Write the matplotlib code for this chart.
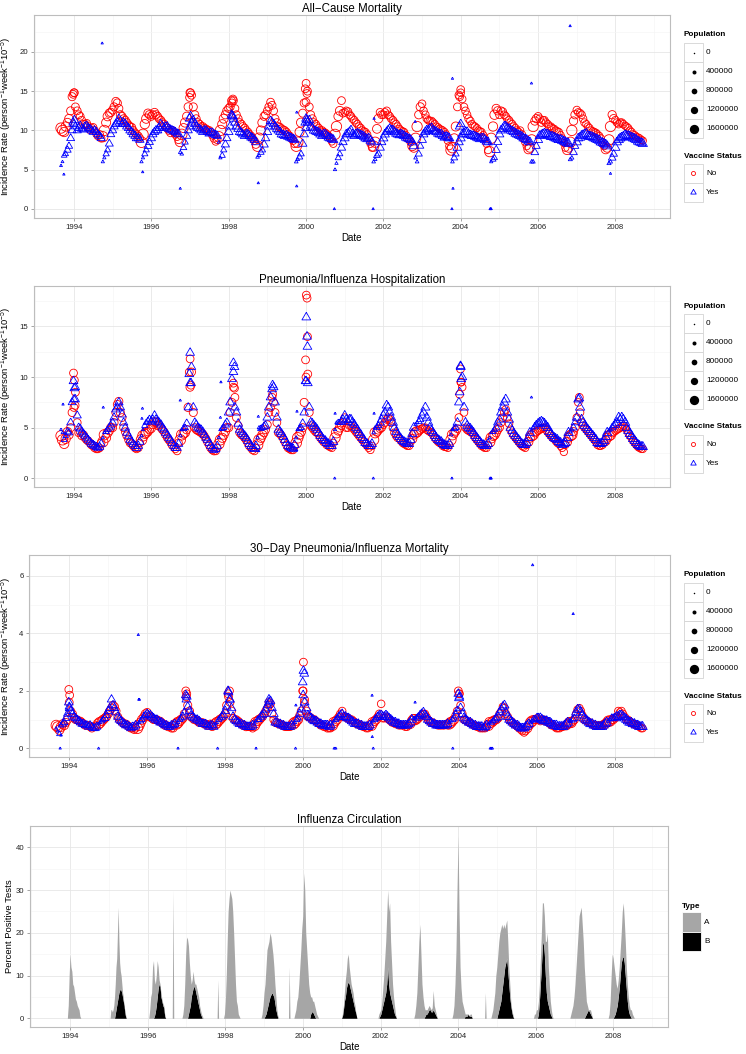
import numpy as np
import pandas as pd
import matplotlib
matplotlib.use("Agg")
import matplotlib.pyplot as plt
import matplotlib.dates as mdates
from matplotlib.patches import Rectangle

plt.rcParams["font.family"] = ["Liberation Sans", "DejaVu Sans"]
plt.rcParams["mathtext.fontset"] = "custom"
plt.rcParams["mathtext.rm"] = "Liberation Sans"
plt.rcParams["mathtext.default"] = "regular"

# ---------------- data: two readings a month, Sep 1993 .. Sep 2008 ----------------
mid_dates = pd.date_range("1993-09-01", periods=181, freq="MS") + pd.Timedelta(days=14)
first_dates = pd.date_range("1993-09-01", periods=181, freq="MS")

# all-cause mortality (mid-month / first of month), unvaccinated and vaccinated
ac_no = [
    10.0, 10.5, 11.5, 14.3,
    13.0, 12.0, 11.3, 10.8, 10.5, 10.3, 10.0, 9.3, 9.0, 10.0, 11.8, 12.3,
    13.0, 13.5, 12.0, 11.5, 11.0, 10.5, 10.0, 9.5, 9.0, 9.5, 11.5, 12.0,
    12.0, 12.0, 11.5, 11.0, 10.5, 10.0, 10.0, 9.5, 8.8, 9.5, 11.0, 13.0,
    14.5, 12.0, 11.0, 10.5, 10.3, 10.0, 9.8, 9.0, 8.8, 10.0, 11.5, 12.5,
    13.0, 13.8, 12.0, 11.0, 10.5, 10.0, 9.5, 9.0, 8.2, 9.0, 11.0, 12.0,
    13.0, 13.2, 11.5, 10.5, 10.2, 10.0, 9.5, 9.0, 8.3, 8.5, 11.0, 13.5,
    15.0, 12.0, 11.0, 10.5, 10.0, 9.8, 9.5, 9.0, 8.3, 10.5, 12.5, 12.2,
    12.5, 12.0, 11.5, 11.0, 10.5, 10.0, 9.8, 9.0, 7.8, 8.5, 11.5, 12.0,
    12.3, 12.0, 11.5, 11.0, 10.5, 10.0, 9.8, 9.0, 8.5, 7.8, 10.5, 13.0,
    12.5, 11.5, 11.2, 11.0, 10.5, 10.2, 10.0, 9.5, 8.0, 7.8, 10.5, 14.5,
    14.0, 12.5, 11.5, 10.8, 10.5, 10.0, 9.8, 9.0, 7.5, 9.0, 12.0, 12.5,
    12.5, 12.0, 11.5, 11.0, 10.5, 10.0, 10.0, 9.0, 8.0, 7.8, 10.5, 11.5,
    11.5, 11.3, 11.0, 10.5, 10.3, 10.0, 9.8, 9.0, 7.8, 7.8, 10.0, 12.0,
    12.3, 12.0, 11.0, 10.5, 10.0, 9.8, 9.5, 9.0, 8.0, 7.8, 10.5, 11.5,
    11.0, 11.0, 10.8, 10.5, 10.0, 9.5, 9.2, 9.0, 8.7,
]
ac_no_b = [
    10.3, 9.8, 11.0, 12.5,
    14.8, 12.5, 11.8, 10.8, 10.9, 10.1, 10.4, 9.6, 9.5, 9.2, 11.0, 12.2,
    12.6, 13.7, 12.8, 11.8, 11.3, 10.7, 10.4, 9.7, 9.3, 8.5, 10.8, 12.2,
    11.8, 12.3, 11.8, 11.3, 10.8, 10.3, 9.7, 9.8, 9.2, 8.6, 10.3, 11.8,
    14.8, 13.0, 11.5, 10.8, 10.5, 10.2, 10.0, 9.4, 8.6, 9.2, 10.8, 12.0,
    12.8, 13.5, 12.8, 11.5, 10.8, 10.3, 9.8, 9.3, 8.7, 8.0, 10.0, 11.8,
    12.5, 13.6, 12.5, 11.0, 10.4, 10.1, 9.8, 9.3, 8.7, 8.0, 9.8, 12.2,
    13.6, 13.0, 11.5, 10.8, 10.3, 10.0, 9.7, 9.3, 8.6, 9.5, 11.8, 13.8,
    12.3, 12.4, 11.8, 11.3, 10.8, 10.3, 9.9, 9.5, 8.3, 8.0, 10.2, 12.3,
    12.0, 12.5, 11.8, 11.3, 10.8, 10.2, 9.9, 9.4, 8.8, 8.0, 9.0, 12.0,
    13.4, 12.0, 11.3, 11.2, 10.8, 10.4, 10.1, 9.8, 8.7, 7.5, 9.0, 13.0,
    14.8, 13.0, 12.0, 11.2, 10.6, 10.3, 9.9, 9.4, 8.3, 7.3, 10.5, 12.8,
    12.0, 12.4, 11.8, 11.3, 10.8, 10.3, 9.8, 9.5, 8.5, 7.6, 8.8, 11.2,
    11.8, 11.0, 11.3, 10.8, 10.5, 10.2, 9.9, 9.4, 8.4, 7.5, 8.5, 11.2,
    12.6, 12.2, 11.5, 10.8, 10.3, 9.9, 9.7, 9.3, 8.5, 7.6, 8.8, 12.0,
    11.3, 10.8, 11.0, 10.6, 10.3, 9.8, 9.4, 9.1, 8.8,
]
ac_yes = [
    6.0, 7.0, 8.0, 10.0,
    10.5, 10.3, 10.2, 10.5, 10.3, 10.0, 10.0, 9.5, 9.0, 6.5, 7.5, 9.5,
    10.5, 11.0, 11.2, 11.0, 10.5, 10.0, 9.5, 9.0, 8.8, 6.5, 7.5, 8.5,
    9.5, 10.0, 10.3, 10.5, 10.5, 10.2, 10.0, 9.8, 9.5, 7.0, 8.5, 10.0,
    11.0, 10.8, 10.3, 10.0, 10.0, 9.8, 9.7, 9.5, 9.3, 6.5, 7.5, 9.0,
    10.5, 11.5, 10.5, 9.8, 9.5, 9.5, 9.3, 9.0, 8.5, 6.8, 7.5, 9.0,
    10.5, 11.0, 10.5, 10.0, 9.5, 9.3, 9.2, 9.0, 8.8, 6.3, 7.0, 9.5,
    11.0, 10.5, 10.0, 9.8, 9.5, 9.5, 9.3, 9.0, 8.8, 5.8, 7.0, 8.5,
    9.5, 9.8, 9.5, 9.5, 9.5, 9.3, 9.0, 9.0, 8.5, 6.3, 7.0, 8.5,
    9.5, 10.0, 10.0, 9.8, 9.5, 9.5, 9.3, 9.0, 8.8, 8.0, 6.0, 8.0,
    9.5, 10.0, 10.2, 10.0, 9.8, 9.5, 9.3, 9.2, 9.0, 6.0, 7.0, 8.5,
    9.5, 9.8, 9.5, 9.3, 9.2, 9.0, 9.0, 8.8, 8.5, 6.0, 6.5, 8.5,
    10.0, 10.5, 10.3, 10.0, 9.8, 9.5, 9.3, 9.0, 8.8, 8.5, 6.0, 8.0,
    9.3, 9.5, 9.5, 9.3, 9.2, 9.0, 8.8, 8.7, 8.5, 8.3, 6.5, 8.0,
    9.0, 9.3, 9.5, 9.3, 9.2, 9.0, 8.8, 8.5, 8.3, 8.0, 6.0, 7.0,
    8.5, 9.0, 9.2, 9.3, 9.2, 9.0, 8.8, 8.5, 8.3,
]
ac_yes_b = [
    5.5, 6.8, 7.5, 9.0,
    10.8, 10.0, 10.6, 10.1, 10.6, 10.2, 9.8, 9.8, 9.3, 6.0, 7.0, 8.3,
    10.0, 10.8, 11.5, 10.8, 10.8, 10.3, 9.8, 9.3, 9.0, 6.0, 7.0, 8.0,
    9.0, 9.8, 10.0, 10.8, 10.3, 10.5, 10.1, 9.9, 9.6, 7.2, 7.8, 9.3,
    10.5, 11.3, 10.5, 10.2, 9.8, 10.0, 9.6, 9.7, 9.4, 8.5, 6.8, 8.2,
    9.8, 11.8, 11.0, 10.2, 9.7, 9.3, 9.5, 9.1, 8.8, 6.6, 7.2, 8.2,
    9.8, 11.2, 10.8, 10.2, 9.8, 9.4, 9.4, 9.1, 8.9, 6.0, 6.6, 8.3,
    10.3, 11.3, 10.3, 9.9, 9.7, 9.3, 9.5, 9.1, 8.9, 5.0, 6.5, 7.8,
    9.0, 9.6, 10.0, 9.3, 9.6, 9.4, 9.2, 8.9, 8.7, 6.0, 6.8, 7.8,
    9.0, 9.8, 10.2, 10.0, 9.6, 9.4, 9.4, 9.1, 8.9, 8.5, 6.5, 7.0,
    8.8, 9.8, 10.0, 10.3, 9.9, 9.6, 9.5, 9.1, 9.1, 8.8, 6.5, 7.8,
    9.0, 9.6, 9.8, 9.4, 9.3, 9.1, 8.9, 9.0, 8.6, 8.3, 6.3, 7.5,
    9.5, 10.2, 10.5, 10.2, 9.9, 9.6, 9.4, 9.2, 8.9, 8.6, 6.0, 7.2,
    8.8, 9.4, 9.6, 9.5, 9.2, 9.1, 8.9, 8.8, 8.6, 8.4, 6.3, 7.2,
    8.5, 9.1, 9.4, 9.6, 9.2, 9.1, 8.9, 8.7, 8.4, 8.2, 5.8, 6.5,
    7.8, 8.8, 9.1, 9.4, 9.3, 9.1, 8.9, 8.6, 8.4,
]

# pneumonia/influenza hospitalization
pi_no = [
    3.8, 3.9, 4.3, 6.5,
    8.5, 4.5, 4.2, 4.0, 3.7, 3.3, 3.0, 2.9, 3.5, 4.3, 4.5, 5.0,
    5.5, 7.3, 6.5, 5.0, 4.2, 3.5, 3.2, 2.9, 3.5, 4.2, 4.5, 4.8,
    5.3, 5.5, 5.3, 4.8, 4.3, 3.8, 3.3, 2.9, 3.5, 4.3, 4.5, 7.0,
    10.5, 5.0, 4.7, 4.5, 4.2, 3.6, 3.0, 2.7, 3.0, 3.8, 4.3, 5.0,
    6.5, 9.0, 6.0, 4.5, 4.2, 3.8, 3.2, 2.8, 3.0, 3.8, 4.3, 4.8,
    6.5, 8.0, 6.5, 4.5, 4.2, 3.6, 3.0, 2.8, 3.2, 4.0, 4.6, 7.5,
    14.0, 5.2, 4.8, 4.5, 4.0, 3.6, 3.3, 3.1, 3.5, 4.5, 5.0, 5.5,
    5.0, 5.2, 5.0, 4.6, 4.2, 3.8, 3.4, 3.0, 3.2, 4.5, 4.8, 5.0,
    5.5, 6.0, 5.5, 4.5, 4.0, 3.7, 3.4, 3.2, 3.6, 4.3, 4.6, 4.8,
    5.0, 4.8, 4.6, 4.3, 3.8, 3.5, 3.2, 3.1, 3.3, 4.3, 4.7, 6.0,
    9.0, 5.0, 4.7, 4.5, 4.0, 3.6, 3.2, 3.0, 3.3, 4.0, 4.3, 4.8,
    5.5, 6.5, 6.0, 4.8, 4.2, 3.8, 3.4, 3.1, 3.3, 4.0, 4.3, 4.6,
    4.8, 5.0, 4.8, 4.4, 4.0, 3.7, 3.4, 3.0, 3.3, 4.0, 4.3, 5.0,
    7.5, 5.5, 5.0, 4.6, 4.2, 3.8, 3.3, 3.2, 3.5, 4.0, 4.3, 4.6,
    4.8, 5.0, 5.2, 4.8, 4.2, 3.7, 3.3, 3.0, 2.9,
]
pi_no_b = [
    4.2, 3.4, 4.6, 5.0,
    7.0, 5.5, 4.6, 4.3, 3.8, 3.5, 3.2, 2.9, 3.0, 3.6, 4.0, 4.7,
    5.0, 6.5, 7.6, 6.0, 4.6, 3.8, 3.4, 3.0, 3.0, 3.8, 4.4, 4.6,
    4.9, 5.6, 5.2, 5.0, 4.6, 4.0, 3.6, 3.1, 2.7, 3.8, 4.4, 4.8,
    9.0, 6.5, 4.8, 4.6, 4.4, 3.9, 3.3, 2.8, 2.7, 3.4, 4.0, 4.6,
    5.0, 7.5, 8.0, 5.2, 4.3, 4.0, 3.5, 3.0, 2.7, 3.3, 4.0, 4.5,
    5.3, 7.0, 7.5, 5.5, 4.4, 3.9, 3.3, 2.9, 2.8, 3.5, 4.3, 5.0,
    10.0, 6.5, 5.0, 4.6, 4.3, 3.8, 3.5, 3.2, 3.0, 4.0, 4.7, 5.2,
    6.0, 5.0, 5.2, 4.8, 4.4, 4.0, 3.6, 3.2, 2.8, 3.8, 4.6, 4.9,
    5.3, 5.8, 5.8, 5.0, 4.2, 3.9, 3.5, 3.3, 3.2, 3.9, 4.5, 4.7,
    4.9, 5.0, 4.7, 4.5, 4.0, 3.6, 3.4, 3.1, 3.0, 3.8, 4.5, 4.9,
    9.5, 6.5, 4.8, 4.6, 4.3, 3.8, 3.4, 3.1, 3.0, 3.6, 4.2, 4.5,
    5.0, 6.0, 6.8, 5.4, 4.5, 4.0, 3.6, 3.2, 3.0, 3.6, 4.2, 4.5,
    4.7, 4.9, 5.0, 4.6, 4.2, 3.9, 3.5, 3.2, 2.6, 3.6, 4.2, 4.6,
    6.0, 6.5, 5.2, 4.8, 4.4, 4.0, 3.6, 3.2, 3.3, 3.7, 4.2, 4.5,
    4.7, 4.9, 5.1, 5.0, 4.5, 4.0, 3.5, 3.1, 2.9,
]
pi_yes = [
    4.5, 4.2, 4.5, 7.5,
    9.0, 5.0, 4.6, 4.2, 3.8, 3.4, 3.2, 3.0, 3.4, 4.5, 4.8, 5.2,
    6.0, 7.0, 7.0, 5.5, 4.5, 3.8, 3.4, 3.0, 3.6, 4.8, 5.5, 5.8,
    5.8, 5.8, 5.5, 5.0, 4.5, 4.0, 3.5, 3.0, 3.4, 4.8, 5.0, 7.0,
    11.0, 5.5, 5.0, 4.8, 4.3, 3.8, 3.2, 2.8, 3.2, 4.8, 5.0, 5.5,
    7.5, 10.5, 6.5, 4.8, 4.4, 4.0, 3.4, 3.0, 3.2, 5.0, 5.0, 5.2,
    7.0, 8.8, 7.5, 4.8, 4.4, 3.8, 3.2, 3.0, 3.3, 4.8, 5.0, 6.5,
    13.0, 5.5, 5.2, 4.8, 4.2, 3.8, 3.5, 3.2, 3.6, 5.5, 5.5, 5.8,
    5.8, 5.8, 5.5, 5.0, 4.5, 4.0, 3.5, 3.2, 3.4, 5.0, 5.2, 5.8,
    6.5, 7.0, 6.0, 5.0, 4.3, 3.9, 3.6, 3.4, 3.8, 5.0, 5.5, 5.8,
    6.5, 6.0, 5.0, 4.5, 4.0, 3.7, 3.4, 3.2, 3.4, 4.8, 5.0, 7.5,
    10.0, 5.5, 5.0, 4.7, 4.2, 3.8, 3.4, 3.2, 3.4, 4.5, 4.8, 5.5,
    6.5, 7.5, 6.5, 5.0, 4.4, 4.0, 3.6, 3.3, 3.5, 4.5, 5.0, 5.3,
    5.5, 5.5, 5.2, 4.6, 4.2, 3.9, 3.6, 3.3, 3.5, 4.5, 4.8, 5.5,
    7.8, 5.8, 5.2, 4.8, 4.4, 4.0, 3.5, 3.4, 3.7, 4.5, 4.8, 5.2,
    5.5, 5.8, 5.8, 5.0, 4.4, 3.9, 3.5, 3.2, 3.1,
]
pi_yes_b = [
    4.8, 3.8, 4.6, 5.5,
    7.8, 6.2, 4.9, 4.4, 4.0, 3.6, 3.3, 3.1, 3.1, 4.0, 4.6, 5.0,
    5.5, 6.8, 7.5, 6.3, 5.0, 4.2, 3.6, 3.2, 3.2, 4.2, 5.2, 5.6,
    5.6, 6.2, 5.6, 5.3, 4.8, 4.3, 3.8, 3.2, 3.0, 4.2, 4.9, 5.4,
    9.4, 7.0, 5.3, 4.9, 4.6, 4.0, 3.5, 3.0, 2.9, 4.0, 4.9, 5.3,
    6.5, 9.8, 7.0, 5.4, 4.6, 4.2, 3.7, 3.2, 2.9, 4.0, 4.9, 5.1,
    6.0, 8.0, 9.0, 6.0, 4.6, 4.1, 3.5, 3.1, 2.9, 4.0, 4.9, 5.4,
    9.6, 7.0, 5.4, 5.0, 4.5, 4.0, 3.7, 3.4, 3.2, 4.8, 5.5, 5.6,
    6.2, 5.6, 5.8, 5.3, 4.8, 4.3, 3.8, 3.4, 3.2, 4.5, 5.0, 5.5,
    6.2, 7.2, 6.5, 5.5, 4.6, 4.1, 3.7, 3.5, 3.4, 4.4, 5.3, 5.6,
    6.2, 7.0, 5.5, 4.7, 4.2, 3.8, 3.6, 3.3, 3.2, 4.3, 4.9, 5.5,
    11.0, 7.0, 5.2, 4.9, 4.5, 4.0, 3.6, 3.3, 3.2, 4.0, 4.6, 5.0,
    5.8, 7.0, 7.8, 5.8, 4.7, 4.2, 3.8, 3.4, 3.3, 4.0, 4.7, 5.1,
    5.4, 5.6, 5.4, 5.0, 4.4, 4.0, 3.8, 3.5, 3.4, 4.0, 4.6, 5.0,
    6.0, 7.0, 5.5, 5.0, 4.6, 4.2, 3.8, 3.4, 3.5, 4.1, 4.7, 5.0,
    5.3, 6.0, 6.0, 5.5, 4.7, 4.2, 3.7, 3.3, 3.1,
]

# 30-day pneumonia/influenza mortality
pm_no = [
    0.75, 0.75, 0.8, 1.0,
    1.3, 1.05, 1.0, 0.95, 0.85, 0.8, 0.75, 0.75, 0.8, 0.9, 1.0, 1.1,
    1.3, 1.5, 1.3, 1.0, 0.9, 0.85, 0.75, 0.7, 0.7, 0.8, 1.0, 1.2,
    1.1, 1.05, 1.0, 0.95, 0.9, 0.8, 0.75, 0.7, 0.8, 0.9, 1.0, 1.2,
    1.5, 1.1, 1.0, 0.95, 0.9, 0.85, 0.8, 0.85, 0.8, 0.9, 1.0, 1.1,
    1.5, 1.6, 1.05, 1.0, 0.9, 0.8, 0.75, 0.75, 0.7, 0.9, 1.0, 1.1,
    1.3, 1.5, 1.2, 0.9, 0.85, 0.8, 0.75, 0.75, 0.8, 0.9, 1.0, 1.3,
    1.7, 1.1, 1.05, 1.0, 0.9, 0.8, 0.75, 0.7, 0.7, 0.9, 1.0, 1.2,
    1.1, 1.05, 1.0, 0.95, 0.85, 0.8, 0.75, 0.7, 0.75, 0.9, 1.0, 1.2,
    1.05, 1.1, 1.0, 0.9, 0.85, 0.8, 0.8, 0.75, 0.8, 0.95, 1.0, 1.05,
    1.15, 1.2, 1.0, 0.9, 0.85, 0.8, 0.8, 0.8, 0.8, 0.9, 1.0, 1.3,
    1.5, 1.0, 0.95, 0.9, 0.8, 0.75, 0.7, 0.7, 0.75, 0.9, 0.95, 1.0,
    1.2, 1.45, 1.2, 1.0, 0.9, 0.8, 0.7, 0.6, 0.6, 0.8, 0.95, 1.0,
    1.0, 1.0, 0.95, 0.9, 0.8, 0.75, 0.7, 0.75, 0.8, 0.85, 0.9, 1.0,
    1.35, 1.3, 1.0, 0.95, 0.9, 0.8, 0.8, 0.8, 0.85, 0.9, 0.95, 1.0,
    1.1, 1.25, 1.2, 1.0, 0.95, 0.85, 0.8, 0.75, 0.7,
]
pm_no_b = [
    0.8, 0.65, 0.85, 0.9,
    1.6, 1.2, 1.0, 0.95, 0.9, 0.8, 0.8, 0.7, 0.75, 0.85, 0.95, 1.05,
    1.2, 1.4, 1.45, 1.1, 0.95, 0.85, 0.8, 0.7, 0.65, 0.7, 0.9, 1.1,
    1.25, 1.1, 1.0, 1.0, 0.95, 0.85, 0.8, 0.75, 0.7, 0.85, 0.95, 1.05,
    1.8, 1.3, 1.05, 1.0, 0.9, 0.9, 0.85, 0.8, 0.75, 0.85, 0.95, 1.05,
    1.2, 1.8, 1.3, 1.0, 0.95, 0.85, 0.8, 0.75, 0.75, 0.8, 0.95, 1.05,
    1.2, 1.4, 1.55, 1.0, 0.9, 0.85, 0.8, 0.75, 0.75, 0.85, 0.95, 1.15,
    2.0, 1.3, 1.1, 1.0, 0.95, 0.85, 0.8, 0.75, 0.7, 0.8, 0.95, 1.1,
    1.3, 1.1, 1.05, 1.0, 0.9, 0.85, 0.8, 0.75, 0.7, 0.8, 0.95, 1.1,
    1.55, 1.05, 1.05, 0.95, 0.9, 0.85, 0.8, 0.8, 0.75, 0.85, 1.0, 1.0,
    1.1, 1.2, 1.1, 0.95, 0.9, 0.85, 0.8, 0.8, 0.85, 0.85, 0.95, 1.15,
    1.9, 1.2, 1.0, 0.9, 0.85, 0.8, 0.75, 0.7, 0.7, 0.8, 0.9, 1.0,
    1.05, 1.3, 1.4, 1.1, 0.95, 0.85, 0.75, 0.65, 0.55, 0.7, 0.9, 1.0,
    1.05, 0.95, 1.0, 0.95, 0.85, 0.8, 0.7, 0.7, 0.75, 0.8, 0.9, 0.95,
    1.2, 1.4, 1.15, 1.0, 0.9, 0.85, 0.8, 0.8, 0.8, 0.85, 0.95, 1.0,
    1.05, 1.3, 1.3, 1.1, 1.0, 0.9, 0.85, 0.8, 0.7,
]
pm_yes = [
    0.6, 0.8, 0.9, 1.2,
    1.3, 1.1, 1.0, 0.9, 0.85, 0.8, 0.8, 0.7, 0.75, 0.9, 1.0, 1.15,
    1.4, 1.5, 1.25, 1.0, 0.9, 0.8, 0.75, 0.75, 0.8, 0.9, 1.0, 1.15,
    1.15, 1.1, 1.0, 0.95, 0.9, 0.8, 0.75, 0.8, 0.85, 0.9, 1.05, 1.25,
    1.45, 1.15, 1.05, 1.0, 0.9, 0.85, 0.8, 0.8, 0.75, 0.9, 1.05, 1.15,
    1.45, 1.7, 1.1, 0.95, 0.85, 0.8, 0.75, 0.75, 0.8, 0.95, 1.0, 1.15,
    1.35, 1.6, 1.4, 0.9, 0.85, 0.8, 0.75, 0.75, 0.8, 0.9, 1.05, 1.35,
    1.6, 1.15, 1.05, 0.95, 0.9, 0.85, 0.8, 0.8, 0.8, 0.95, 1.05, 1.15,
    1.1, 1.05, 1.0, 0.9, 0.85, 0.8, 0.75, 0.75, 0.8, 0.95, 1.05, 1.15,
    1.1, 1.15, 1.05, 0.95, 0.9, 0.85, 0.8, 0.8, 0.85, 1.0, 1.05, 1.1,
    1.2, 1.15, 1.0, 0.9, 0.85, 0.8, 0.8, 0.8, 0.85, 0.95, 1.05, 1.3,
    1.4, 1.05, 0.95, 0.9, 0.8, 0.75, 0.75, 0.7, 0.8, 0.9, 0.95, 1.05,
    1.25, 1.45, 1.25, 1.0, 0.9, 0.8, 0.75, 0.7, 0.75, 0.85, 0.95, 1.0,
    1.05, 1.0, 0.95, 0.9, 0.85, 0.8, 0.75, 0.75, 0.8, 0.9, 0.95, 1.05,
    1.35, 1.25, 1.05, 0.95, 0.85, 0.8, 0.75, 0.75, 0.8, 0.9, 1.0, 1.05,
    1.1, 1.15, 1.1, 1.0, 0.9, 0.85, 0.8, 0.75, 0.75,
]
pm_yes_b = [
    0.7, 0.5, 0.85, 1.05,
    1.45, 1.2, 1.05, 0.95, 0.85, 0.8, 0.75, 0.75, 0.7, 0.85, 0.95, 1.05,
    1.3, 1.7, 1.4, 1.1, 0.95, 0.85, 0.8, 0.7, 0.75, 0.85, 0.95, 1.1,
    1.2, 1.15, 1.05, 1.0, 0.9, 0.85, 0.8, 0.75, 0.8, 0.85, 1.0, 1.1,
    1.7, 1.3, 1.1, 1.0, 0.95, 0.85, 0.85, 0.75, 0.8, 0.85, 1.0, 1.1,
    1.3, 1.95, 1.4, 1.0, 0.9, 0.85, 0.8, 0.75, 0.75, 0.85, 1.0, 1.1,
    1.2, 1.5, 1.65, 1.2, 0.9, 0.85, 0.8, 0.75, 0.75, 0.85, 1.0, 1.2,
    1.85, 1.4, 1.1, 1.0, 0.95, 0.85, 0.8, 0.8, 0.75, 0.85, 1.0, 1.1,
    1.2, 1.1, 1.05, 0.95, 0.85, 0.85, 0.8, 0.75, 0.75, 0.85, 1.0, 1.1,
    1.15, 1.1, 1.1, 1.0, 0.9, 0.85, 0.8, 0.8, 0.8, 0.9, 1.05, 1.05,
    1.15, 1.25, 1.1, 0.95, 0.85, 0.8, 0.8, 0.8, 0.8, 0.9, 1.0, 1.15,
    1.75, 1.2, 1.0, 0.9, 0.85, 0.8, 0.75, 0.75, 0.75, 0.85, 0.9, 1.0,
    1.1, 1.35, 1.5, 1.1, 0.95, 0.85, 0.8, 0.7, 0.7, 0.8, 0.9, 1.0,
    1.05, 1.05, 0.95, 0.95, 0.9, 0.8, 0.8, 0.75, 0.75, 0.85, 0.95, 1.0,
    1.25, 1.35, 1.15, 1.0, 0.9, 0.85, 0.8, 0.75, 0.75, 0.85, 0.95, 1.05,
    1.05, 1.1, 1.15, 1.05, 0.95, 0.9, 0.85, 0.8, 0.75,
]

# cohort sizes (thousands), month by month
pop_no = [
    1800, 1600, 1450, 1350,
    1300, 1300, 1300, 1300, 1300, 1300, 1250, 1250, 1250, 1800, 1550, 1400,
    1350, 1350, 1350, 1300, 1300, 1300, 1300, 1250, 1250, 1850, 1600, 1400,
    1350, 1350, 1300, 1300, 1300, 1300, 1300, 1250, 1250, 1850, 1550, 1400,
    1350, 1350, 1300, 1300, 1300, 1300, 1300, 1300, 1250, 1800, 1550, 1400,
    1350, 1300, 1300, 1300, 1300, 1300, 1300, 1250, 1250, 1850, 1550, 1350,
    1300, 1300, 1300, 1300, 1300, 1250, 1250, 1250, 1250, 1850, 1550, 1350,
    1300, 1300, 1300, 1300, 1250, 1250, 1250, 1250, 1200, 1800, 1500, 1300,
    1250, 1250, 1250, 1250, 1250, 1250, 1200, 1200, 1200, 1800, 1500, 1300,
    1250, 1250, 1250, 1250, 1250, 1200, 1200, 1200, 1200, 1550, 1800, 1400,
    1250, 1250, 1250, 1250, 1200, 1200, 1200, 1200, 1200, 1800, 1550, 1300,
    1250, 1250, 1250, 1250, 1200, 1200, 1200, 1200, 1200, 1800, 1600, 1400,
    1300, 1250, 1250, 1250, 1250, 1200, 1200, 1200, 1200, 1550, 1800, 1400,
    1250, 1250, 1250, 1250, 1200, 1200, 1200, 1200, 1200, 1550, 1800, 1400,
    1250, 1250, 1250, 1200, 1200, 1200, 1200, 1200, 1200, 1550, 1800, 1400,
    1250, 1250, 1250, 1200, 1200, 1200, 1200, 1200, 1200,
]
pop_yes = [
    100, 450, 750, 850,
    900, 900, 900, 900, 900, 900, 900, 900, 900, 150, 550, 850,
    900, 950, 950, 950, 950, 950, 950, 950, 950, 150, 550, 850,
    950, 950, 950, 950, 950, 950, 950, 950, 950, 200, 600, 900,
    950, 950, 950, 950, 950, 950, 950, 950, 950, 150, 550, 900,
    1000, 1000, 1000, 1000, 1000, 1000, 1000, 1000, 1000, 200, 600, 950,
    1000, 1000, 1000, 1000, 1000, 1000, 1000, 1000, 1000, 200, 600, 950,
    1000, 1050, 1050, 1050, 1050, 1050, 1050, 1050, 1050, 150, 550, 950,
    1000, 1050, 1050, 1050, 1050, 1050, 1050, 1050, 1050, 200, 650, 950,
    1050, 1050, 1050, 1050, 1050, 1050, 1050, 1050, 1050, 1050, 200, 700,
    1000, 1050, 1050, 1050, 1050, 1050, 1050, 1050, 1050, 200, 650, 1000,
    1050, 1050, 1050, 1050, 1050, 1050, 1050, 1050, 1050, 150, 500, 900,
    1000, 1050, 1050, 1050, 1050, 1050, 1050, 1050, 1050, 1050, 250, 800,
    1050, 1100, 1100, 1100, 1100, 1100, 1100, 1100, 1100, 1100, 250, 800,
    1050, 1100, 1100, 1100, 1100, 1100, 1100, 1100, 1100, 1100, 250, 800,
    1050, 1100, 1100, 1100, 1100, 1100, 1100, 1100, 1100,
]
peak_pop_no = 1300
peak_pop_yes = 1000
outlier_pop = 40

# epidemic peak weeks
ac_peak_dates = ["1993-12-25", "1994-01-05", "1996-12-28", "1997-01-06", "1998-01-28", "1998-02-10",
                 "1999-12-25", "2000-01-02", "2000-01-10", "2003-12-22", "2004-01-01"]
ac_peak_no = [14.6, 14.8, 14.2, 14.8, 13.8, 14.0, 15.3, 16.0, 14.7, 14.3, 15.2]
ac_peak_yes = [11.0, 11.3, 11.5, 11.8, 12.0, 11.8, 11.0, 11.5, 11.3, 10.5, 10.8]

pi_peak_dates = ["1993-12-28", "1994-01-05", "1994-01-12", "1996-12-25", "1997-01-02", "1997-01-10",
                 "1998-02-15", "1998-02-25", "1999-02-20", "1999-12-28", "2000-01-04", "2000-01-11",
                 "2000-01-18", "2003-12-22", "2003-12-30", "2004-01-06", "2007-01-25"]
pi_peak_no = [10.4, 9.7, 7.2, 10.5, 11.8, 9.2, 9.4, 8.9, 8.3, 11.7, 18.1, 17.8, 10.3, 8.3, 10.8, 9.5, 8.0]
pi_peak_yes = [9.6, 8.9, 7.8, 10.3, 12.4, 9.4, 11.4, 11.0, 9.2, 9.6, 15.9, 14.0, 9.4, 8.5, 11.1, 9.8, 7.9]

pm_peak_dates = ["1993-12-28", "1994-01-05", "1996-12-28", "1997-01-06", "1998-01-28", "1998-02-10",
                 "1999-02-15", "1999-12-28", "2000-01-04", "2000-01-12", "2003-12-25", "2004-01-04"]
pm_peak_no = [2.05, 1.85, 2.0, 1.9, 1.9, 2.0, 1.6, 2.0, 3.0, 1.6, 2.0, 1.9]
pm_peak_yes = [1.6, 1.4, 1.85, 1.8, 2.0, 1.7, 1.7, 2.3, 2.7, 2.6, 1.9, 1.8]

# early-season weeks with very few vaccinated persons
ac_out_dates = ["1993-09-28", "1994-09-25", "1995-10-12", "1996-10-01", "1998-10-08", "1999-10-05",
                "1999-10-06", "2000-09-25", "2001-09-26", "2001-10-05", "2002-10-28", "2003-10-15",
                "2003-10-20", "2003-10-10", "2004-10-05", "2004-10-10", "2004-10-14", "2005-10-30",
                "2006-10-30", "2007-11-15"]
ac_out_vals = [4.4, 21.1, 4.7, 2.6, 3.3, 2.9, 12.3, 0, 0, 11.5, 11.1, 16.6, 2.6, 0, 0, 0, 0, 16.0, 23.3, 4.5]

pi_out_dates = ["1993-09-20", "1994-10-05", "1995-10-10", "1995-10-05", "1996-10-01", "1997-10-20",
                "1997-10-15", "1998-10-08", "1998-10-12", "1999-10-05", "1999-10-08", "2000-09-28",
                "2000-10-02", "2001-09-28", "2001-10-05", "2003-10-10", "2004-10-05", "2004-10-10",
                "2004-10-14", "2005-10-30"]
pi_out_vals = [7.3, 7.0, 6.9, 5.9, 7.7, 9.5, 6.0, 6.1, 2.7, 2.8, 6.6, 0, 6.4, 0, 6.4, 0, 0, 0, 0, 8.0]

pm_out_dates = ["1993-10-08", "1993-10-15", "1994-10-03", "1995-10-10", "1995-10-15", "1995-10-20",
                "1996-10-16", "1997-10-22", "1998-10-17", "1999-10-22", "1999-10-25", "2000-10-18",
                "2000-11-02", "2001-10-19", "2001-10-08", "2001-10-10", "2002-11-15", "2003-11-03",
                "2004-10-19", "2004-10-28", "2004-11-08", "2005-11-20", "2006-12-05"]
pm_out_vals = [0, 0.45, 0, 3.95, 1.7, 1.7, 0, 0, 0, 0, 1.5, 0, 0, 0, 1.84, 0.4, 1.6, 0, 0, 0, 0, 6.38, 4.68]

# influenza circulation: percent positive tests by season
flu_start = ["1993-12-15", "1995-01-20", "1996-01-21", "1996-08-20", "1996-11-28", "1997-10-16",
             "1997-12-24", "1998-12-13", "1999-08-19", "1999-10-18", "2001-01-08", "2001-12-17",
             "2002-11-20", "2003-11-14", "2004-09-07", "2004-11-14", "2005-12-20", "2006-11-28",
             "2007-11-23"]
flu_end = ["1994-04-04", "1995-06-07", "1996-06-10", "1996-09-03", "1997-05-30", "1997-10-30",
           "1998-05-12", "1999-05-11", "1999-09-02", "2000-05-19", "2001-05-15", "2002-05-22",
           "2003-06-10", "2004-05-04", "2004-09-21", "2005-05-30", "2006-06-06", "2007-06-10",
           "2008-07-08"]
flu_a = [
    [3, 10, 15, 12, 11, 8, 7.5, 6, 4.5, 4, 3, 2.5, 2, 0.5],
    [2, 2, 1.5, 2, 3, 5, 7, 10, 11, 16, 21, 12, 6.5, 4, 3.5, 2, 1, 1, 0, 0.5, 0.5],
    [2, 5, 6, 12, 13.5, 8.5, 6.5, 7, 8.5, 5, 1, 0.5, 1, 0.5, 0.5, 0.5, 0.5],
    [0, 30, 0],
    [1, 3, 8, 15, 19, 18.5, 16, 11, 7, 3, 3, 4, 1.5, 1, 2, 2, 2, 2, 1, 1, 0.5, 0.5],
    [0, 9, 0],
    [1, 4, 10, 18, 25, 28, 30, 29, 28, 25, 20, 14, 8, 4, 3, 1, 0.5],
    [1, 3, 6, 7.5, 11, 14, 14, 14, 15, 13.5, 11, 9.5, 7, 4.5, 3, 1, 0.5],
    [0, 12, 0],
    [1, 2, 4, 5, 8, 12, 16, 21, 24, 34, 30, 20, 16, 12, 8, 6, 4, 3.5, 2.5, 3, 2.5, 2, 1, 0.5],
    [0.5, 1, 2, 4, 4, 6, 6.5, 4, 3, 2, 2, 2, 1, 1, 0],
    [1, 1, 1, 2, 4, 6, 9, 12, 16, 18, 17, 21, 13, 9, 5, 3, 2, 0.5],
    [1, 3, 6, 12, 18, 22, 15, 8, 5, 3, 1.5, 1, 1, 1, 1, 0.5, 0.5, 1, 4.5, 1.5, 1, 0.5],
    [1, 3, 8, 16, 30, 42.7, 25, 12, 7, 4, 3, 2, 0.5, 0.5, 0.5, 0, 0, 0.5, 0.5],
    [0, 6, 0],
    [1, 2, 4, 6, 10, 12, 14, 16, 17, 17, 16, 13, 12, 9, 9, 9, 7, 4, 3, 1, 0.5, 0.5],
    [1, 1, 2, 2, 3, 4, 6, 8, 10, 9, 9, 8, 12, 16, 9, 6, 3, 1.5, 0.5],
    [1, 2, 3, 5, 8, 12, 16, 20, 24, 25, 26, 22, 18, 12, 7.5, 3, 1.5, 0, 0.5, 1, 0.5],
    [1, 4, 10, 15, 14, 11.5, 9, 6, 4, 4, 5, 6, 7, 11, 12.5, 10, 8, 5, 4, 3, 2, 1.5, 2, 1, 0.5],
]
flu_b = [
    [0, 0, 0, 0, 0, 0, 0, 0, 0, 0, 0, 0, 0, 0],
    [0, 0, 0, 0, 0, 0, 1, 2, 3, 4, 5, 6, 6.5, 7, 6.5, 6, 5, 4, 3, 1.5, 0.5],
    [0, 0, 0, 0, 0, 0.5, 1.5, 3, 5, 7, 8, 7.5, 5, 4, 3, 2.5, 0.5],
    [0, 0, 0],
    [0, 0, 0, 0, 0, 0, 1, 2, 3, 5, 6, 7, 7.5, 7, 6, 5, 4, 3, 2, 1, 0.5, 0],
    [0, 0, 0],
    [0, 0, 0, 0, 0, 0, 0, 0, 0, 0, 0, 0, 0, 0, 0, 0, 0],
    [0, 0, 0, 0.5, 1, 2, 3, 4, 5, 5.5, 6, 5.5, 5, 3.5, 2, 1, 0],
    [0, 0, 0],
    [0, 0, 0, 0, 0, 0, 0, 0, 0, 0, 0, 0, 0, 0, 0, 0, 1, 1.5, 1.5, 1, 0.5, 0, 0, 0],
    [0.5, 2, 4, 5, 7, 8, 8.5, 8, 7, 6, 5, 4, 3, 2, 1],
    [0, 0.5, 1, 2, 3, 4, 5, 6, 8, 12, 8, 6, 5, 4, 3, 2, 1, 0.5],
    [0, 0, 0, 0, 0, 0, 0, 0, 0, 0, 0.5, 1, 1, 1.5, 2, 2, 1.5, 1.5, 2, 1.5, 1, 0.5],
    [0, 0, 0, 0, 0, 0, 0, 0, 0, 0, 0, 0, 0.5, 0.5, 0.5, 1, 0.5, 0.5, 0.5],
    [0, 0, 0],
    [0, 0, 0, 0, 0, 0, 1, 2, 3, 4, 6, 8, 10, 12, 13, 14, 11, 8, 5, 3, 1.5, 0.5],
    [0, 0, 0, 0, 1, 4, 8, 12, 17, 18, 15, 10, 6, 4, 3, 2, 1, 0.5, 0],
    [0, 0, 0, 0, 0, 0, 0, 0, 0, 0, 0, 0, 0, 0, 0.5, 1, 1.5, 2, 1.5, 1, 0.5],
    [0, 0, 0, 0, 0, 0.5, 1, 2, 3, 5, 7, 10, 13, 14, 14.5, 13, 10, 7, 4, 2, 1, 0.5, 0, 0, 0],
]

size_labels = ["0", "400000", "800000", "1200000", "1600000"]
size_breaks = [0, 400, 800, 1200, 1600]

# ---------------- layout helpers ----------------
W, H = 746, 1054
fig = plt.figure(figsize=(W / 100, H / 100), dpi=100)

key_pop = [0, 400, 800, 1200, 1600]
key_px = [1.5, 4.0, 5.7, 7.3, 9.3]
TRI = [(0, 1.555), (-1.347, -0.778), (1.347, -0.778), (0, 1.555)]


def marker_area(pop):
    pop = np.asarray(pop, dtype=float)
    d = np.interp(pop, key_pop, key_px)
    d = np.where(pop > key_pop[-1], key_px[-1] + (pop - key_pop[-1]) * 0.005, d)
    return (d * 0.72) ** 2


def add_panel(left, top, right, bottom):
    return fig.add_axes([left / W, 1 - bottom / H, (right - left) / W, (bottom - top) / H])


x_lo = mdates.date2num(pd.Timestamp("1992-12-20"))
x_hi = mdates.date2num(pd.Timestamp("2009-05-30"))
major_years = mdates.date2num([pd.Timestamp(f"{y}-01-01") for y in range(1994, 2010, 2)])
minor_years = mdates.date2num([pd.Timestamp(f"{y}-01-01") for y in range(1993, 2010, 2)])


def style_panel(ax, ylim, major_y, minor_y, ylabel, title, left_px, right_px, label_px):
    ax.set_xlim(x_lo, x_hi)
    ax.set_ylim(*ylim)
    ax.set_xticks(major_years)
    ax.set_xticks(minor_years, minor=True)
    ax.xaxis.set_major_formatter(mdates.DateFormatter("%Y"))
    ax.set_yticks(major_y)
    ax.set_yticks(minor_y, minor=True)
    ax.grid(which="major", color="#E6E6E6", lw=0.6)
    ax.grid(which="minor", color="#F5F5F5", lw=0.5)
    ax.set_axisbelow(True)
    for sp in ax.spines.values():
        sp.set_color("#BDBDBD")
        sp.set_linewidth(0.8)
    ax.tick_params(which="major", length=2.5, width=0.5, color="#808080",
                   labelsize=5.6, labelcolor="#222222", pad=1.5)
    ax.tick_params(which="minor", length=0)
    ax.set_title(title, fontsize=8.3, pad=2.5)
    ax.set_xlabel("Date", fontsize=7, labelpad=1.5)
    ax.set_ylabel(ylabel, fontsize=6.8)
    ax.yaxis.set_label_coords((label_px - left_px) / (right_px - left_px), 0.5)


def scatter_panel(ax, no, no_b, yes, yes_b, pk_dates, pk_no, pk_yes, out_dates, out_vals):
    xm = mdates.date2num(mid_dates)
    xf = mdates.date2num(first_dates)
    px = mdates.date2num(pd.to_datetime(pk_dates))
    ox = mdates.date2num(pd.to_datetime(out_dates))
    xr = np.concatenate([xf, xm, px])
    yr = np.concatenate([no_b, no, pk_no])
    sr = np.concatenate([pop_no, pop_no, [peak_pop_no] * len(pk_no)])
    ax.scatter(xr, yr, s=marker_area(sr), marker="o", facecolors="none",
               edgecolors="red", linewidths=0.6, zorder=3)
    xb = np.concatenate([xf, xm, px, ox])
    yb = np.concatenate([yes_b, yes, pk_yes, out_vals])
    sb = np.concatenate([pop_yes, pop_yes, [peak_pop_yes] * len(pk_yes), [outlier_pop] * len(out_vals)])
    ax.scatter(xb, yb, s=marker_area(sb) * 2.42, marker=TRI, facecolors="none",
               edgecolors="blue", linewidths=0.6, zorder=4)


ylab_rate = "Incidence Rate (person$^{-1}$week$^{-1}$10$^{-5}$)"

# panel 1
ax1 = add_panel(34, 15, 670, 218)
scatter_panel(ax1, ac_no, ac_no_b, ac_yes, ac_yes_b, ac_peak_dates, ac_peak_no, ac_peak_yes,
              ac_out_dates, ac_out_vals)
style_panel(ax1, (-1.15, 24.7), [0, 5, 10, 15, 20], [2.5, 7.5, 12.5, 17.5, 22.5],
            ylab_rate, "All\u2212Cause Mortality", 34, 670, 14)

# panel 2
ax2 = add_panel(34, 286, 670, 487)
scatter_panel(ax2, pi_no, pi_no_b, pi_yes, pi_yes_b, pi_peak_dates, pi_peak_no, pi_peak_yes,
              pi_out_dates, pi_out_vals)
style_panel(ax2, (-0.86, 19.0), [0, 5, 10, 15], [2.5, 7.5, 12.5, 17.5],
            ylab_rate, "Pneumonia/Influenza Hospitalization", 34, 670, 14)

# panel 3
ax3 = add_panel(29, 555, 670, 757)
scatter_panel(ax3, pm_no, pm_no_b, pm_yes, pm_yes_b, pm_peak_dates, pm_peak_no, pm_peak_yes,
              pm_out_dates, pm_out_vals)
style_panel(ax3, (-0.30, 6.73), [0, 2, 4, 6], [1, 3, 5],
            ylab_rate, "30\u2212Day Pneumonia/Influenza Mortality", 29, 670, 14)

# panel 4: stacked areas
ax4 = add_panel(30, 826, 668, 1027)
fx, fa, fb = [], [], []
for s, e, a, b in zip(flu_start, flu_end, flu_a, flu_b):
    d = pd.date_range(s, e, periods=len(a))
    step = d[1] - d[0]
    fx += [d[0] - step] + list(d) + [d[-1] + step]
    fa += [0] + list(a) + [0]
    fb += [0] + list(b) + [0]
fx = mdates.date2num(fx)
fa = np.array(fa, dtype=float)
fb = np.array(fb, dtype=float)
ax4.fill_between(fx, 0, fb, color="black", lw=0, zorder=3)
ax4.fill_between(fx, fb, fb + fa, color="#A6A6A6", lw=0, zorder=3)
style_panel(ax4, (-2.04, 44.98), [0, 10, 20, 30, 40], [5, 15, 25, 35],
            "Percent Positive Tests", "Influenza Circulation", 30, 668, 14)

# ---------------- legends (pixel overlay) ----------------
ov = fig.add_axes([0, 0, 1, 1])
ov.set_xlim(0, W)
ov.set_ylim(H, 0)
ov.axis("off")


def draw_point_legend(x0, top):
    ov.text(x0, top + 20, "Population", fontsize=5.9, fontweight="bold", va="center", ha="left")
    for i, (p, lab) in enumerate(zip(size_breaks, size_labels)):
        y0 = top + 28 + 19 * i
        ov.add_patch(Rectangle((x0, y0), 19, 19, fc="white", ec="#D3D3D3", lw=0.6))
        ov.scatter([x0 + 9.5], [y0 + 9.5], s=marker_area([p]), color="black", lw=0)
        ov.text(x0 + 22, y0 + 9.5, lab, fontsize=5.9, va="center", ha="left")
    ov.text(x0, top + 141, "Vaccine Status", fontsize=5.9, fontweight="bold", va="center", ha="left")
    for j, (mk, col, lab, k) in enumerate([("o", "red", "No", 1.0), (TRI, "blue", "Yes", 2.42)]):
        y0 = top + 149 + 19 * j
        ov.add_patch(Rectangle((x0, y0), 19, 19, fc="white", ec="#D3D3D3", lw=0.6))
        ov.scatter([x0 + 9.5], [y0 + 9.5], s=8.5 * k, marker=mk, facecolors="none",
                   edgecolors=col, linewidths=0.6)
        ov.text(x0 + 22, y0 + 9.5, lab, fontsize=5.9, va="center", ha="left")


draw_point_legend(684, 15)
draw_point_legend(684, 286)
draw_point_legend(684, 555)

ov.text(682, 906, "Type", fontsize=5.9, fontweight="bold", va="center", ha="left")
for j, (col, lab) in enumerate([("#A6A6A6", "A"), ("black", "B")]):
    y0 = 912.3 + 19.4 * j
    ov.add_patch(Rectangle((682, y0), 19.4, 19.4, fc=col, ec="white", lw=0.6))
    ov.text(704, y0 + 9.7, lab, fontsize=5.9, va="center", ha="left")

fig.savefig("out.png", dpi=100)
